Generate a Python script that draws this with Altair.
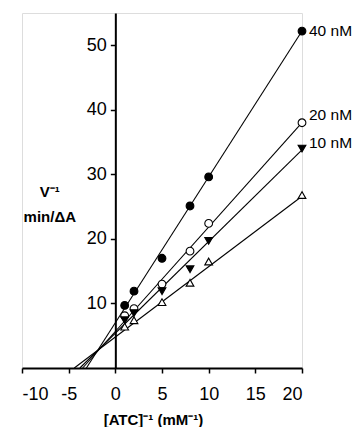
import altair as alt
import pandas as pd

# ---- data ----
x_vals = [1, 2, 5, 8, 10, 20]
series = ["40 nM", "20 nM", "10 nM", "0 nM"]
y_40 = [9.7, 11.9, 17.0, 25.1, 29.6, 52.2]
y_20 = [8.1, 9.2, 13.0, 18.1, 22.4, 38.0]
y_10 = [7.4, 8.5, 11.9, 15.3, 19.7, 34.0]
y_0 = [6.4, 7.4, 10.2, 13.2, 16.5, 26.8]

# fitted lines: x-intercept (y=0) to the value at x=20
line_x_start = [-3.1, -3.5, -3.8, -4.4]
line_x_end = [20, 20, 20, 20]
line_y_end = [52.2, 38.0, 33.8, 26.6]

labels = ["40 nM", "20 nM", "10 nM"]
label_dy = [0, -8, -6]

x_ticks = [-10, -5, 0, 5, 10, 15, 20]
y_ticks = [10, 20, 30, 40, 50]

shapes = ["circle", "circle", "triangle-down", "triangle-up"]
fills = ["black", "white", "black", "white"]

FONT = "Liberation Sans"

# ---- tables ----
rows = []
for s, ys in zip(series, [y_40, y_20, y_10, y_0]):
    for xv, yv in zip(x_vals, ys):
        rows.append({"series": s, "x": xv, "y": yv})
pts = pd.DataFrame(rows)

lrows = []
for s, x0, x1, y1 in zip(series, line_x_start, line_x_end, line_y_end):
    lrows.append({"series": s, "x": x0, "y": 0.0, "o": 0})
    lrows.append({"series": s, "x": x1, "y": y1, "o": 1})
lines_df = pd.DataFrame(lrows)

W, H = 280, 355
px_per_x = W / 30.0

xscale = alt.Scale(domain=[-10, 20], nice=False, zero=False)
yscale = alt.Scale(domain=[0, 55], nice=False, zero=False)

xaxis = alt.Axis(
    values=x_ticks, labelExpr="datum.value + ''", grid=False,
    domainColor="black", domainWidth=2, tickColor="black", tickWidth=1.5, tickSize=5,
    labelFont=FONT, labelFontSize=18, labelColor="black", labelPadding=12,
    title="[ATC]⁻¹ (mM⁻¹)", titleFont=FONT, titleFontSize=15, titleFontWeight="bold",
    titleColor="black", titleX=131, titleY=44, titleBaseline="top", titleAnchor="middle",
)
yaxis = alt.Axis(
    values=y_ticks, grid=False, offset=-10 * px_per_x,
    domainColor="black", domainWidth=2, tickColor="black", tickWidth=1.5, tickSize=5,
    labelFont=FONT, labelFontSize=18, labelColor="black", labelPadding=4,
    title=["V⁻¹", "min/ΔA"], titleAngle=0, titleFont=FONT, titleFontSize=15,
    titleFontWeight="bold", titleColor="black", titleAlign="center",
    titleBaseline="top", titleX=-66, titleY=171, titleLineHeight=25,
)

base_x = alt.X("x:Q", scale=xscale, axis=xaxis)
base_y = alt.Y("y:Q", scale=yscale, axis=yaxis)

line_layer = alt.Chart(lines_df).mark_line(color="black", strokeWidth=1.1).encode(
    x=base_x, y=base_y, detail="series:N", order="o:Q"
)

point_layer = alt.Chart(pts).mark_point(
    stroke="black", strokeWidth=1.1, opacity=1, filled=False, size=60
).encode(
    x=alt.X("x:Q", scale=xscale),
    y=alt.Y("y:Q", scale=yscale),
    shape=alt.Shape("series:N", scale=alt.Scale(domain=series, range=shapes), legend=None),
    fill=alt.Fill("series:N", scale=alt.Scale(domain=series, range=fills), legend=None),
)

label_layers = []
for lab, dy in zip(labels, label_dy):
    sub = pts[(pts["series"] == lab) & (pts["x"] == max(x_vals))].assign(label=lab)
    label_layers.append(
        alt.Chart(sub).mark_text(
            align="left", baseline="middle", dx=7, dy=dy, font=FONT, fontSize=15.5, color="black"
        ).encode(x=alt.X("x:Q", scale=xscale), y=alt.Y("y:Q", scale=yscale), text="label:N")
    )

chart = alt.layer(line_layer, point_layer, *label_layers).properties(
    width=W, height=H,
    autosize=alt.AutoSizeParams(type="none"),
    padding={"left": 14, "top": 5, "right": 52, "bottom": 59},
).configure_view(stroke=None).configure(background="white")

chart.save("out.html", embed_options={"renderer": "svg", "actions": False})
